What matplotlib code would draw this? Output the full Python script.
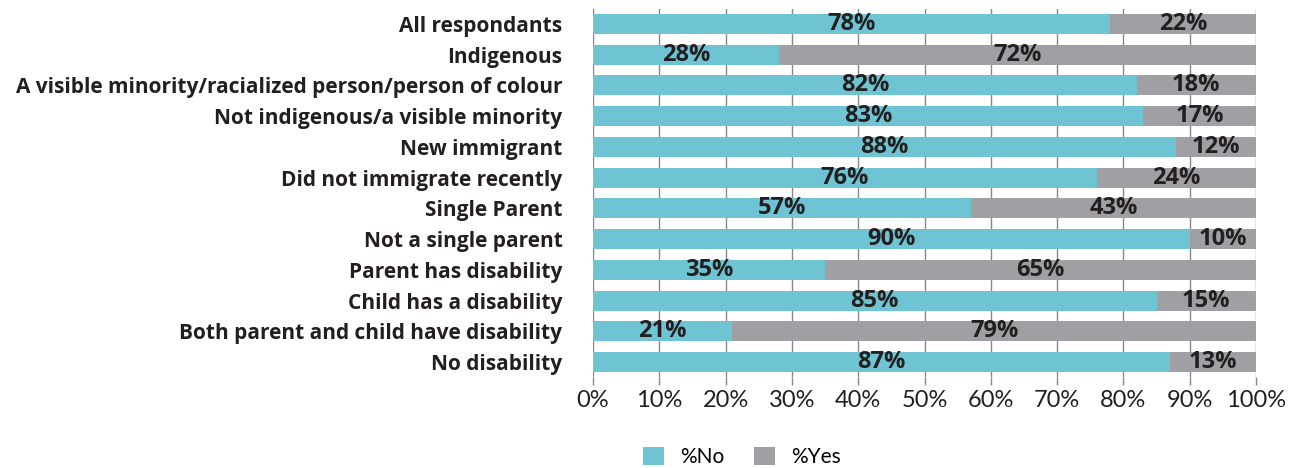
import matplotlib.pyplot as plt
import numpy as np

# survey groups (top to bottom) and their answer shares
groups = [
    "All respondants",
    "Indigenous",
    "A visible minority/racialized person/person of colour",
    "Not indigenous/a visible minority",
    "New immigrant",
    "Did not immigrate recently",
    "Single Parent",
    "Not a single parent",
    "Parent has disability",
    "Child has a disability",
    "Both parent and child have disability",
    "No disability",
]
pct_no = [78, 28, 82, 83, 88, 76, 57, 90, 35, 85, 21, 87]
pct_yes = [22, 72, 18, 17, 12, 24, 43, 10, 65, 15, 79, 13]
x_ticks = list(range(0, 101, 10))

teal = '#6ec4d2'
grey = '#a0a0a4'
dark = '#231f20'

plt.rcParams['font.family'] = ['Lato', 'DejaVu Sans']
bold_font = ['Open Sans', 'DejaVu Sans']

fig = plt.figure(figsize=(13.02, 4.68), dpi=100)
ax = fig.add_axes([593 / 1302, 1 - 377.4 / 468, 663 / 1302, 368.8 / 468])

y = np.arange(len(groups))
no = np.array(pct_no)
yes = np.array(pct_yes)

ax.barh(y, no, height=0.65, color=teal, label='%No', zorder=2)
ax.barh(y, yes, left=no, height=0.65, color=grey, label='%Yes', zorder=2)

# value labels centred in each segment
for i in range(len(groups)):
    ax.text(no[i] / 2, y[i], f"{no[i]}%", ha='center', va='center',
            fontsize=17, fontweight='bold', color=dark, zorder=3, family=bold_font)
    ax.text(no[i] + yes[i] / 2, y[i], f"{yes[i]}%", ha='center', va='center',
            fontsize=17, fontweight='bold', color=dark, zorder=3, family=bold_font)

ax.set_xlim(0, 100)
ax.set_ylim(len(groups) - 0.5, -0.5)
ax.set_xticks(x_ticks)
ax.set_xticklabels([f"{t}%" for t in x_ticks], fontsize=17, color=dark)
ax.set_yticks(y)
ax.set_yticklabels(groups, fontsize=15, fontweight='bold', color=dark, family=bold_font)
ax.tick_params(axis='y', length=0, pad=22)
ax.tick_params(axis='x', length=6, color='#888888', width=1, pad=3)
ax.grid(axis='x', color='#888888', linewidth=1, zorder=0)
for s in ax.spines.values():
    s.set_visible(False)

fig.legend(loc='center', bbox_to_anchor=(742 / 1302, 1 - 457 / 468), ncol=2,
           frameon=False, handlelength=1.0, handleheight=1.0, handletextpad=0.8,
           columnspacing=1.4, prop={'size': 15})

fig.savefig('out.png', dpi=100)
